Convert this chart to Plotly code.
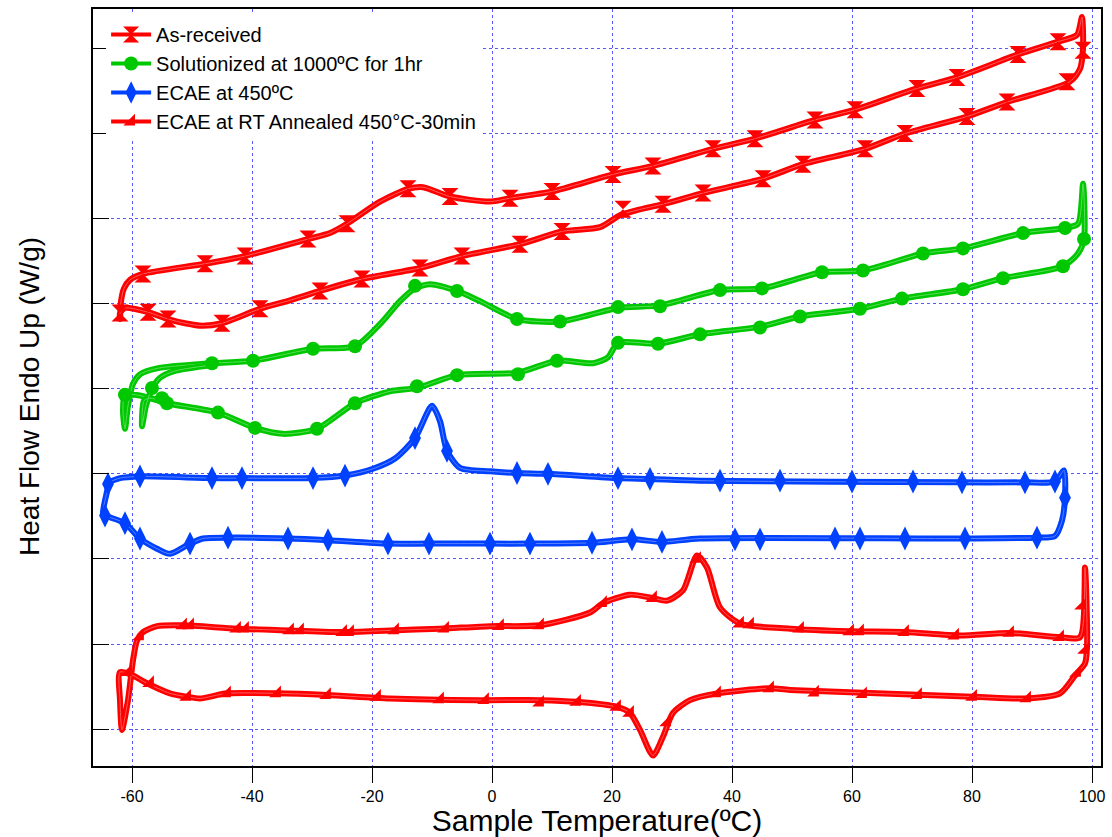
import plotly.graph_objects as go

# ---------------- data (Sample temperature in degC, heat flow in arbitrary W/g units) -------------
# As-received (closed heating/cooling loop)
ar_T = [-62.0, -61.83, -61.33, -60.33, -58.17, -47.83, -41.17, -30.67, -27.0, -24.17, -18.67, -14.0,
        -11.5, -7.0, -0.33, 3.0, 10.0, 20.17, 26.83, 36.83, 43.83, 53.83, 60.5, 70.83, 77.5, 87.67,
        94.33, 97.5, 98.33, 98.5, 98.0, 96.33, 85.83, 79.17, 68.83, 62.17, 51.83, 45.17, 35.17, 28.5,
        24.17, 21.33, 18.0, 11.67, 4.67, -5.0, -12.0, -21.67, -28.67, -33.67, -38.67, -45.0, -48.33,
        -51.17, -54.0, -57.33, -61.17, -62.0, -62.0]
ar_Y = [4.82, 5.03, 5.18, 5.28, 5.35, 5.47, 5.56, 5.76, 5.83, 5.94, 6.20, 6.35,
        6.37, 6.26, 6.20, 6.24, 6.32, 6.52, 6.62, 6.82, 6.94, 7.16, 7.28, 7.53, 7.66, 7.93,
        8.08, 8.16, 8.37, 8.00, 7.76, 7.61, 7.37, 7.20, 7.00, 6.82, 6.64, 6.47, 6.30, 6.17,
        6.10, 6.04, 5.90, 5.85, 5.70, 5.56, 5.42, 5.29, 5.15, 5.04, 4.94, 4.77, 4.74,
        4.77, 4.82, 4.90, 4.95, 4.89, 4.82]
ar_mT = [-58.17, -47.83, -41.17, -30.67, -24.17, -14.0, -7.0, 3.0, 10.0, 20.17, 26.83, 36.83, 43.83,
         53.83, 60.5, 70.83, 77.5, 87.67, 94.33, 98.5, 95.83, 85.83, 79.17, 68.83, 62.17, 51.83, 45.17,
         35.17, 28.5, 21.83, 11.67, 4.67, -5.0, -12.0, -21.67, -28.67, -38.67, -45.0, -54.0, -57.33, -62.0]
ar_mY = [5.35, 5.47, 5.56, 5.76, 5.94, 6.35, 6.26, 6.24, 6.32, 6.52, 6.62, 6.82, 6.94,
         7.16, 7.28, 7.53, 7.66, 7.93, 8.08, 7.98, 7.61, 7.37, 7.20, 7.00, 6.82, 6.64, 6.47,
         6.30, 6.17, 6.11, 5.85, 5.70, 5.56, 5.42, 5.29, 5.15, 4.94, 4.77, 4.82, 4.90, 4.89]

# Solutionized at 1000C for 1hr (main loop + second-cycle start at the cold end)
so_T = [-61.17, -60.67, -59.83, -58.67, -55.83, -46.67, -39.83, -29.83, -22.83, -18.67, -15.33, -12.83,
        -10.33, -5.83, -2.0, 4.17, 11.33, 21.0, 28.0, 38.0, 45.0, 55.0, 61.83, 71.83, 78.5, 88.5,
        95.5, 97.67, 98.5, 98.67, 97.67, 95.17, 85.17, 78.5, 68.33, 61.33, 51.33, 44.67, 34.67, 27.67,
        21.0, 19.33, 16.83, 10.83, 4.33, -5.83, -12.5, -17.0, -22.83, -29.17, -34.83, -39.5, -45.67,
        -54.17, -58.67, -61.17, -61.5, -61.17]
so_Y = [3.53, 3.80, 4.06, 4.17, 4.24, 4.30, 4.33, 4.47, 4.50, 4.76, 5.03, 5.18,
        5.23, 5.15, 5.03, 4.82, 4.79, 4.95, 4.98, 5.16, 5.18, 5.37, 5.39, 5.59, 5.65, 5.83,
        5.89, 5.94, 6.41, 5.76, 5.59, 5.44, 5.30, 5.17, 5.06, 4.94, 4.85, 4.73, 4.64, 4.53,
        4.54, 4.37, 4.30, 4.33, 4.19, 4.16, 4.01, 3.97, 3.83, 3.53, 3.47, 3.54, 3.72,
        3.83, 3.92, 3.93, 3.74, 3.53]
so2_T = [-54.17, -57.0, -58.0, -58.33, -57.67, -56.67, -55.33, -52.83, -46.67]
so2_Y = [3.83, 3.89, 3.86, 3.56, 3.80, 4.00, 4.13, 4.21, 4.28]
so_mT = [-46.67, -39.83, -29.83, -22.83, -12.83, -5.83, 4.17, 11.33, 21.0, 28.0, 38.0, 45.0, 55.0,
         61.83, 71.83, 78.5, 88.5, 95.5, 98.67, 95.17, 85.17, 78.5, 68.33, 61.33, 51.33, 44.67, 34.67,
         27.67, 21.0, 10.83, 4.33, -5.83, -12.5, -22.83, -29.17, -39.5, -45.67, -54.17, -55.0, -56.67, -61.17]
so_mY = [4.30, 4.33, 4.47, 4.50, 5.21, 5.15, 4.82, 4.79, 4.96, 4.97, 5.16, 5.18, 5.37,
         5.39, 5.59, 5.65, 5.83, 5.89, 5.76, 5.44, 5.30, 5.17, 5.06, 4.94, 4.85, 4.72, 4.64,
         4.53, 4.54, 4.33, 4.17, 4.16, 4.03, 3.83, 3.53, 3.54, 3.72, 3.83, 3.89, 4.01, 3.93]

# ECAE at 450C
ec_T = [-64.83, -64.33, -63.67, -62.0, -58.67, -46.67, -41.67, -29.83, -24.5, -19.83, -16.17, -12.83,
        -10.0, -8.67, -7.5, -5.33, -0.33, 4.17, 9.33, 21.0, 26.33, 34.67, 78.0, 88.83, 93.83, 95.33,
        95.5, 95.0, 93.83, 90.83, 78.83, 34.67, 28.33, 23.33, 16.67, 6.33, -0.33, -10.5, -17.33,
        -27.33, -34.0, -44.0, -48.17, -50.33, -53.67, -55.83, -58.67, -61.17, -64.5, -64.83]
ec_Y = [2.53, 2.74, 2.90, 2.95, 2.97, 2.95, 2.95, 2.95, 2.98, 3.06, 3.18, 3.42,
        3.80, 3.62, 3.27, 3.07, 3.03, 3.01, 3.00, 2.95, 2.94, 2.92, 2.90, 2.90, 2.91, 3.04,
        2.72, 2.45, 2.27, 2.25, 2.24, 2.24, 2.20, 2.23, 2.19, 2.18, 2.18, 2.18, 2.18,
        2.22, 2.24, 2.25, 2.24, 2.18, 2.06, 2.12, 2.24, 2.42, 2.51, 2.53]
ec_mT = [-64.0, -58.67, -46.67, -41.67, -29.83, -24.5, -12.83, -7.5, 4.17, 9.33, 21.0, 26.33, 38.0,
         48.0, 60.0, 70.17, 78.33, 88.83, 93.83, 95.5, 90.83, 78.83, 68.83, 61.33, 57.17, 44.67, 40.5,
         28.33, 23.33, 16.67, 6.33, -0.33, -10.5, -17.33, -27.33, -34.0, -44.0, -50.33, -58.67, -61.17, -64.5]
ec_mY = [2.88, 2.97, 2.95, 2.95, 2.95, 2.98, 3.42, 3.27, 3.01, 3.00, 2.95, 2.94, 2.92,
         2.92, 2.91, 2.91, 2.90, 2.90, 2.91, 2.72, 2.25, 2.24, 2.24, 2.24, 2.24, 2.23, 2.23,
         2.20, 2.23, 2.19, 2.18, 2.18, 2.18, 2.18, 2.22, 2.24, 2.25, 2.18, 2.24, 2.42, 2.51]

# ECAE at RT Annealed 450C-30min
rt_T = [-61.67, -60.67, -59.83, -59.17, -58.17, -55.83, -51.5, -42.5, -33.67, -24.83, -17.0, -8.67,
        -0.33, 8.0, 16.33, 18.5, 23.0, 26.83, 29.17, 31.83, 34.17, 35.83, 38.0, 41.33, 49.67, 59.67,
        68.83, 78.0, 86.33, 94.67, 98.0, 98.83, 99.17, 98.83, 97.17, 94.67, 89.17, 80.17, 49.67, 46.33,
        37.5, 33.0, 30.17, 28.5, 26.83, 24.67, 23.0, 20.83, 14.17, 8.0, -2.0, -17.0, -27.5, -35.83,
        -44.17, -48.67, -50.83, -53.67, -57.83, -59.83, -62.0, -62.0, -61.67]
rt_Y = [-0.01, 0.34, 0.81, 1.04, 1.14, 1.21, 1.22, 1.18, 1.16, 1.14, 1.16, 1.18,
        1.21, 1.22, 1.37, 1.48, 1.58, 1.54, 1.51, 1.63, 2.04, 1.90, 1.43, 1.24, 1.18, 1.15,
        1.14, 1.10, 1.13, 1.08, 1.08, 1.90, 0.96, 0.77, 0.63, 0.42, 0.36, 0.38, 0.46, 0.48,
        0.42, 0.34, 0.19, -0.09, -0.31, -0.01, 0.19, 0.26, 0.32, 0.34, 0.34, 0.36, 0.40, 0.42,
        0.42, 0.36, 0.38, 0.42, 0.55, 0.63, 0.67, 0.34, -0.01]
rt_mT = [-58.67, -51.5, -50.33, -42.5, -41.17, -33.67, -32.0, -24.83, -23.67, -16.17, -7.83, 1.33, 8.0,
         18.5, 26.83, 34.17, 41.33, 43.0, 51.33, 59.67, 61.33, 68.83, 77.17, 86.33, 94.67, 98.33, 98.83,
         97.5, 89.17, 80.17, 71.0, 61.83, 53.83, 46.33, 37.5, 29.17, 23.0, 20.83, 14.17, 8.0, -1.17,
         -8.67, -19.17, -27.5, -35.83, -44.17, -50.83, -57.0, -60.67]
rt_mY = [1.09, 1.22, 1.22, 1.18, 1.18, 1.16, 1.16, 1.14, 1.14, 1.16, 1.18, 1.21, 1.22,
         1.48, 1.54, 2.00, 1.24, 1.23, 1.18, 1.15, 1.15, 1.14, 1.10, 1.13, 1.08, 1.45, 0.93,
         0.66, 0.36, 0.38, 0.40, 0.41, 0.43, 0.48, 0.42, 0.08, 0.19, 0.26, 0.32, 0.31, 0.34,
         0.35, 0.38, 0.40, 0.42, 0.42, 0.38, 0.54, 0.67]

x_ticks = [-60, -40, -20, 0, 20, 40, 60, 80, 100]
x_tick_labels = ["-60", "-40", "-20", "0", "20", "40", "60", "80", "100"]
y_ticks = [0, 1, 2, 3, 4, 5, 6, 7, 8]

series = [
    ("As-received", "#ff0000", "hourglass", 17, [(ar_T, ar_Y)], ar_mT, ar_mY),
    ("Solutionized at 1000ºC for 1hr", "#00c800", "circle", 14, [(so_T, so_Y), (so2_T, so2_Y)], so_mT, so_mY),
    ("ECAE at 450ºC", "#0040ff", "diamond-tall", 17, [(ec_T, ec_Y)], ec_mT, ec_mY),
    ("ECAE at RT Annealed 450°C-30min", "#ff0000", "triangle-se", 13, [(rt_T, rt_Y)], rt_mT, rt_mY),
]

FONT = "Liberation Sans, Arial, sans-serif"
fig = go.Figure()

for name, color, sym, ms, curves, mT, mY in series:
    for cT, cY in curves:
        fig.add_trace(go.Scatter(x=cT, y=cY, mode="lines", showlegend=False, hoverinfo="skip",
                                 line=dict(color=color, width=6, shape="spline", smoothing=0.7)))
        fig.add_trace(go.Scatter(x=cT, y=cY, mode="lines", showlegend=False, hoverinfo="skip",
                                 opacity=0.35,
                                 line=dict(color="white", width=1, shape="spline", smoothing=0.7)))
    fig.add_trace(go.Scatter(x=mT, y=mY, mode="markers", showlegend=False,
                             marker=dict(symbol=sym, size=ms, color=color, line=dict(width=0))))

for name, color, sym, ms, curves, mT, mY in series:
    fig.add_trace(go.Scatter(x=[None], y=[None], mode="lines+markers", name=name,
                             line=dict(color=color, width=4),
                             marker=dict(symbol=sym, size=ms, color=color, line=dict(width=0))))

grid_color = "rgba(70,70,255,0.9)"
fig.update_layout(
    width=1112, height=837,
    margin=dict(l=93, r=11, t=7, b=71),
    paper_bgcolor="white", plot_bgcolor="white",
    font=dict(family=FONT, color="black"),
    showlegend=True,
    legend=dict(x=0.013, y=0.992, xanchor="left", yanchor="top", bgcolor="white",
                font=dict(family=FONT, size=20, color="black"), tracegroupgap=0,
                itemwidth=40),
    xaxis=dict(range=[-66.5, 101.5], tickvals=x_ticks, ticktext=x_tick_labels,
               ticks="outside", ticklen=15, tickcolor="black", tickwidth=1,
               tickfont=dict(size=16, family=FONT),
               showgrid=True, gridcolor=grid_color, griddash="dot", gridwidth=1,
               showline=True, linecolor="black", linewidth=1.5, mirror=True, zeroline=False,
               title=dict(text="Sample Temperature(ºC)", font=dict(size=30, family=FONT), standoff=0)),
    yaxis=dict(range=[-0.434, 8.464], tickvals=y_ticks, showticklabels=False,
               ticks="inside", ticklen=16, tickcolor="black", tickwidth=1,
               showgrid=True, gridcolor=grid_color, griddash="dot", gridwidth=1,
               showline=True, linecolor="black", linewidth=1.5, mirror=True, zeroline=False),
    annotations=[dict(text="Heat Flow Endo Up (W/g)", xref="paper", yref="paper",
                      x=-0.0625, y=0.4875, xanchor="center", yanchor="middle",
                      textangle=-90, showarrow=False,
                      font=dict(size=28, family=FONT, color="black"))],
)

fig.write_html("out.html")
